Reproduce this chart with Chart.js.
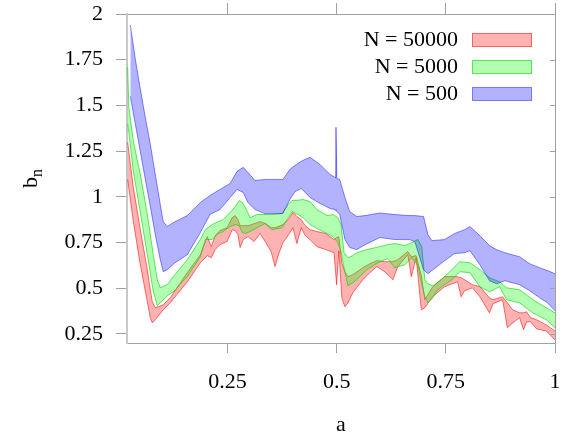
<!DOCTYPE html>
<html><head><meta charset="utf-8">
<script src="https://cdn.jsdelivr.net/npm/chart.js@4"></script>
<style>html,body{margin:0;padding:0;background:#fff}#wrap{width:561px;height:438px}</style>
</head><body><div id="wrap"><canvas id="c" width="561" height="438"></canvas></div>
<script>
const seriesLabels = ['N = 50000', 'N = 5000', 'N = 500'];
const xTicks = [0.25, 0.5, 0.75, 1];
const yTicks = [0.25, 0.5, 0.75, 1, 1.25, 1.5, 1.75, 2];

const aBlue = [0.0276,0.0391,0.0505,0.0619,0.0734,0.0848,0.0962,0.103,0.112,0.130,0.158,0.188,0.210,0.233,0.256,0.272,0.286,0.297,0.313,0.336,0.359,0.377,0.393,0.405,0.419,0.428,0.439,0.462,0.485,0.4965,0.4985,0.5005,0.507,0.519,0.530,0.546,0.565,0.599,0.633,0.667,0.679,0.699,0.709,0.718,0.747,0.770,0.793,0.805,0.828,0.850,0.866,0.885,0.919,0.942,0.965,0.983,1.0];
const blueHi = [1.940,1.753,1.589,1.435,1.287,1.122,0.958,0.864,0.837,0.864,0.897,0.969,1.007,1.040,1.073,1.139,1.161,1.133,1.089,1.095,1.095,1.095,1.150,1.172,1.194,1.205,1.216,1.177,1.122,1.106,1.380,1.100,1.095,0.996,0.919,0.892,0.897,0.911,0.903,0.897,0.897,0.892,0.793,0.760,0.766,0.799,0.820,0.837,0.788,0.733,0.711,0.694,0.672,0.634,0.612,0.596,0.579];
const blueLo = [1.550,1.397,1.248,1.095,0.947,0.793,0.656,0.590,0.601,0.639,0.683,0.804,0.903,0.930,0.996,1.040,1.024,0.969,0.930,0.908,0.908,0.908,0.985,1.029,1.045,1.024,0.996,0.963,0.936,0.930,0.925,0.919,0.903,0.766,0.722,0.711,0.738,0.777,0.766,0.766,0.755,0.601,0.579,0.596,0.650,0.689,0.694,0.705,0.628,0.541,0.524,0.541,0.519,0.486,0.447,0.420,0.376];

const aGreen = [0.0215,0.0242,0.0345,0.0505,0.0665,0.0802,0.0894,0.0962,0.112,0.126,0.158,0.188,0.199,0.215,0.229,0.240,0.256,0.268,0.277,0.284,0.291,0.302,0.318,0.336,0.352,0.375,0.389,0.398,0.407,0.423,0.439,0.455,0.478,0.492,0.503,0.510,0.517,0.526,0.537,0.546,0.569,0.599,0.617,0.633,0.656,0.672,0.686,0.695,0.702,0.709,0.720,0.731,0.747,0.764,0.782,0.805,0.828,0.850,0.873,0.889,0.919,0.949,0.980,1.0];
const greenHi = [1.709,1.490,1.303,1.122,0.903,0.683,0.546,0.502,0.519,0.563,0.656,0.766,0.820,0.848,0.864,0.875,0.914,0.947,0.980,0.969,0.941,0.886,0.903,0.903,0.903,0.908,0.958,0.980,0.980,0.985,0.974,0.930,0.897,0.903,0.886,0.848,0.694,0.667,0.678,0.694,0.711,0.727,0.738,0.744,0.733,0.749,0.766,0.727,0.546,0.524,0.513,0.530,0.563,0.601,0.645,0.639,0.601,0.557,0.535,0.502,0.491,0.437,0.393,0.365];
const greenLo = [1.397,1.353,1.139,0.914,0.683,0.480,0.404,0.420,0.458,0.480,0.563,0.672,0.766,0.766,0.799,0.810,0.837,0.848,0.842,0.804,0.799,0.810,0.831,0.853,0.820,0.831,0.886,0.919,0.908,0.886,0.848,0.826,0.799,0.782,0.749,0.700,0.612,0.513,0.530,0.546,0.601,0.645,0.661,0.612,0.628,0.667,0.623,0.519,0.453,0.420,0.447,0.491,0.519,0.546,0.590,0.585,0.508,0.480,0.508,0.437,0.420,0.365,0.327,0.283];

const aRed = [0.0215,0.0345,0.0505,0.0665,0.0734,0.0779,0.0848,0.103,0.119,0.158,0.188,0.204,0.213,0.222,0.233,0.249,0.261,0.268,0.274,0.279,0.286,0.297,0.311,0.325,0.338,0.350,0.359,0.366,0.377,0.389,0.400,0.409,0.419,0.428,0.439,0.455,0.475,0.494,0.500,0.505,0.512,0.519,0.526,0.537,0.560,0.576,0.592,0.610,0.629,0.640,0.663,0.671,0.682,0.694,0.702,0.720,0.747,0.777,0.785,0.793,0.811,0.828,0.850,0.858,0.880,0.891,0.903,0.919,0.928,0.935,0.944,0.958,0.980,1.0];
const redHi = [1.298,1.051,0.820,0.601,0.491,0.426,0.393,0.409,0.447,0.585,0.683,0.782,0.727,0.788,0.815,0.831,0.886,0.897,0.875,0.842,0.842,0.842,0.853,0.864,0.853,0.831,0.831,0.837,0.848,0.875,0.914,0.892,0.875,0.842,0.820,0.810,0.799,0.766,0.777,0.782,0.634,0.590,0.563,0.574,0.612,0.634,0.650,0.645,0.645,0.656,0.700,0.672,0.678,0.568,0.437,0.508,0.563,0.563,0.557,0.546,0.519,0.508,0.447,0.437,0.453,0.420,0.382,0.365,0.365,0.371,0.338,0.327,0.299,0.266];
const redLo = [1.095,0.864,0.628,0.426,0.338,0.310,0.327,0.382,0.420,0.535,0.639,0.678,0.667,0.711,0.738,0.755,0.820,0.815,0.793,0.722,0.766,0.782,0.755,0.799,0.749,0.700,0.618,0.678,0.749,0.788,0.831,0.744,0.831,0.788,0.766,0.727,0.711,0.694,0.519,0.705,0.447,0.398,0.420,0.475,0.546,0.585,0.618,0.590,0.546,0.618,0.683,0.563,0.667,0.382,0.393,0.453,0.508,0.535,0.453,0.486,0.502,0.453,0.365,0.415,0.437,0.283,0.310,0.338,0.272,0.316,0.316,0.277,0.266,0.217];

const fillCol = ['rgba(255,0,0,0.3)', 'rgba(0,255,0,0.3)', 'rgba(0,0,255,0.3)'];
const lineCol = ['rgba(255,0,0,0.55)', 'rgba(0,210,0,0.6)', 'rgba(0,0,255,0.45)'];
const FONT = '"Liberation Serif", "Times New Roman", serif';
const fontTick = { family: FONT, size: 22 };

function pts(xs, ys) { return xs.map((x, i) => ({ x: x, y: ys[i] })); }
function band(xs, hi, lo, k) {
  const common = { borderWidth: 1, pointRadius: 0, tension: 0, borderColor: lineCol[k] };
  return [
    Object.assign({ label: seriesLabels[k] + ' upper', data: pts(xs, hi), fill: false }, common),
    Object.assign({ label: seriesLabels[k], data: pts(xs, lo), fill: '-1', backgroundColor: fillCol[k] }, common)
  ];
}
const setTicks = arr => s => { s.ticks = arr.map(v => ({ value: v })); };
const noPad = s => { s.paddingLeft = 0; s.paddingRight = 0; s.paddingTop = 0; s.paddingBottom = 0; };

const deco = {
  id: 'deco',
  afterDraw(chart) {
    const ctx = chart.ctx, ca = chart.chartArea, ys = chart.scales.y;
    ctx.save();
    ctx.strokeStyle = '#a0a0a0'; ctx.lineWidth = 1;
    yTicks.forEach(v => {
      const py = Math.round(ys.getPixelForValue(v)) + 0.5;
      ctx.beginPath(); ctx.moveTo(ca.right, py); ctx.lineTo(ca.right - 5, py); ctx.stroke();
    });
    ctx.restore();
    // y-axis title b_n
    ctx.save();
    ctx.translate(37, 188); ctx.rotate(-Math.PI / 2);
    ctx.fillStyle = '#000'; ctx.textAlign = 'left'; ctx.textBaseline = 'alphabetic';
    ctx.font = '22px ' + FONT;
    const wb = ctx.measureText('b').width;
    ctx.fillText('b', 0, 0);
    ctx.font = '16px ' + FONT;
    ctx.fillText('n', wb, 5);
    ctx.restore();
    // legend
    ctx.save();
    ctx.font = '22px ' + FONT; ctx.textAlign = 'right'; ctx.textBaseline = 'middle'; ctx.fillStyle = '#000';
    seriesLabels.forEach((lab, i) => {
      const y = 39 + 27.2 * i;
      ctx.fillText(lab, 458, y + 1);
      ctx.fillStyle = fillCol[i]; ctx.fillRect(472.5, Math.round(y - 6.5) + 0.5, 59, 13);
      ctx.strokeStyle = lineCol[i]; ctx.lineWidth = 1; ctx.strokeRect(472.5, Math.round(y - 6.5) + 0.5, 59, 13);
      ctx.fillStyle = '#000';
    });
    ctx.restore();
  }
};

new Chart(document.getElementById('c'), {
  type: 'line',
  data: { datasets: [].concat(band(aBlue, blueHi, blueLo, 2), band(aGreen, greenHi, greenLo, 1), band(aRed, redHi, redLo, 0)) },
  options: {
    responsive: false, animation: false, devicePixelRatio: 1,
    layout: { padding: { left: 0, right: 6, top: 3, bottom: 0 } },
    plugins: { legend: { display: false }, tooltip: { enabled: false } },
    scales: {
      x: {
        type: 'linear', position: 'bottom', min: 0.02, max: 1,
        afterBuildTicks: setTicks(xTicks),
        ticks: { font: fontTick, color: '#000', padding: 16, maxRotation: 0, autoSkip: false, callback: v => String(v) },
        grid: { drawOnChartArea: false, drawTicks: true, tickLength: 10, color: '#a0a0a0' },
        border: { display: true, color: '#a0a0a0', width: 1 },
        title: { display: true, text: 'a', font: fontTick, color: '#000', padding: { top: 0, bottom: 0 } },
        afterFit: s => { s.height = 95; noPad(s); }
      },
      x2: {
        type: 'linear', position: 'top', min: 0.02, max: 1,
        afterBuildTicks: setTicks(xTicks),
        ticks: { display: false },
        grid: { drawOnChartArea: false, drawTicks: true, tickLength: 11, color: '#a0a0a0' },
        border: { display: true, color: '#a0a0a0', width: 1 },
        afterFit: s => { s.height = 11; noPad(s); }
      },
      y: {
        type: 'linear', position: 'left', min: 0.2, max: 2,
        afterBuildTicks: setTicks(yTicks),
        ticks: { font: fontTick, color: '#000', padding: 13, autoSkip: false, callback: v => String(v) },
        grid: { drawOnChartArea: false, drawTicks: true, tickLength: 11, color: '#a0a0a0' },
        border: { display: true, color: '#c8c8c8', width: 2 },
        afterFit: s => { s.width = 127; noPad(s); }
      },
      y2: {
        type: 'linear', position: 'right', min: 0.2, max: 2,
        ticks: { display: false },
        grid: { drawOnChartArea: false, drawTicks: false },
        border: { display: true, color: '#a0a0a0', width: 1 },
        afterFit: s => { s.width = 0; noPad(s); }
      }
    }
  },
  plugins: [deco]
});
</script>
</body></html>
